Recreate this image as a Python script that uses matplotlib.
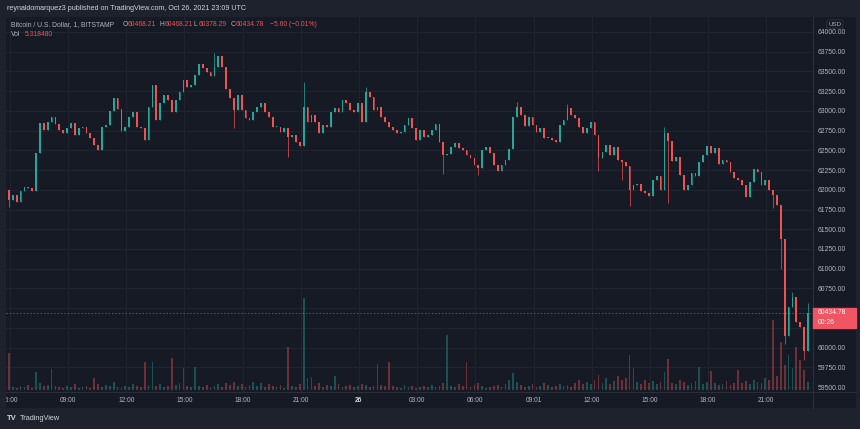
import numpy as np
import matplotlib
matplotlib.use('Agg')
import matplotlib.pyplot as plt

plt.rcParams['font.family'] = ['Liberation Sans', 'DejaVu Sans']

# --- data (BTC/USD, Bitstamp), one value per 12 min ---
start_hour = 5.75          # hours since Oct 25 00:00
step_hour = 0.2
first_open = 61990

# Oct 25 05:45 -> Oct 26 01:33
closes_1 = [62000, 61870, 61930, 61850, 61990, 62040, 62020, 61980, 62470, 62850,
            62760, 62860, 62920, 62830, 62760, 62720, 62780, 62850, 62700, 62780,
            62800, 62720, 62660, 62570, 62510, 62790, 62820, 63000, 63160, 63020,
            62750, 62790, 62920, 62990, 62800, 62780, 62630, 63050, 63330, 62880,
            63100, 63200, 63140, 62990, 63140, 63240, 63390, 63300, 63330, 63460,
            63590, 63540, 63490, 63440, 63560, 63690, 63560, 63280, 63160, 63010,
            63200, 63010, 62910, 62880, 62990, 63050, 63100, 62990, 62920, 62800,
            62800, 62730, 62780, 62670, 62700, 62610, 62550, 63050, 62860, 62950,
            62860, 62720, 62820, 62790, 62990, 63040, 62990, 63140, 63100, 63010,
            62990, 63100, 62860, 63240, 63180, 63010, 63050, 62920, 62860, 62800]
# Oct 26 01:45 -> 23:09
closes_2 = [62760, 62720, 62730, 62820, 62910, 62780, 62630, 62760, 62670, 62700,
            62760, 62830, 62600, 62440, 62450, 62540, 62590, 62530, 62500, 62440,
            62400, 62310, 62270, 62500, 62540, 62470, 62310, 62240, 62310, 62380,
            62520, 62920, 63050, 62950, 62810, 62920, 62820, 62730, 62780, 62660,
            62660, 62630, 62610, 62820, 62880, 63040, 62950, 62910, 62800, 62720,
            62780, 62860, 62690, 62400, 62480, 62570, 62440, 62540, 62380, 62350,
            62300, 62000, 62060, 62070, 61990, 61960, 61920, 62120, 62170, 62000,
            62720, 62620, 62360, 62420, 62190, 62000, 62060, 62210, 62180, 62350,
            62440, 62550, 62470, 62530, 62330, 62380, 62350, 62230, 62150, 62120,
            62060, 61910, 62100, 62260, 62220, 62060, 62120, 62000, 61930, 61810,
            61380, 60150, 60520, 60640, 60320, 60260, 59960, 60435]

volumes_1 = [4, 37, 3, 2, 4, 3, 5, 2, 18, 7,
             4, 5, 21, 4, 3, 2, 4, 3, 6, 2,
             3, 4, 2, 12, 6, 3, 5, 4, 8, 3,
             2, 4, 3, 6, 4, 3, 28, 5, 28, 4,
             6, 3, 4, 32, 5, 7, 22, 4, 3, 23,
             4, 3, 5, 2, 4, 6, 3, 7, 5, 8,
             4, 6, 3, 5, 8, 4, 7, 3, 6, 4,
             3, 5, 2, 43, 4, 3, 6, 92, 12, 13,
             4, 7, 3, 5, 4, 14, 6, 3, 4, 5,
             3, 4, 6, 5, 3, 4, 26, 5, 4, 28]
volumes_2 = [4, 3, 2, 5, 3, 4, 2, 3, 4, 3,
             5, 3, 4, 7, 55, 4, 3, 6, 4, 28,
             3, 5, 7, 4, 2, 3, 4, 5, 3, 6,
             10, 17, 8, 5, 3, 4, 6, 3, 4, 7,
             5, 3, 4, 6, 4, 5, 3, 7, 10, 6,
             8, 6, 10, 15, 7, 12, 6, 9, 14, 10,
             12, 35, 22, 8, 6, 10, 7, 9, 6, 8,
             18, 31, 7, 6, 10, 8, 5, 7, 9, 23,
             6, 8, 19, 7, 5, 6, 9, 5, 7, 20,
             7, 9, 6, 10, 8, 7, 12, 10, 70, 14,
             48, 25, 35, 22, 43, 30, 20, 8]

# long wicks (candle index -> price)
wick_high = {54: 63730, 77: 63370, 93: 63300, 132: 63110, 145: 63090,
             170: 62800, 203: 60700, 207: 60570}
wick_low = {1: 61780, 59: 62780, 73: 62420, 113: 62200, 122: 62190, 153: 62240,
            159: 62120, 161: 61800, 171: 61830, 198: 61770, 200: 61000,
            201: 60050, 206: 59840}

last_price = 60434.78
price_ticks = np.arange(59500, 64001, 250)
hidden_ticks = [60250, 60500]   # covered by the last-price tag
time_ticks = [6, 9, 12, 15, 18, 21, 24, 27, 30, 33, 36, 39, 42, 45]
time_labels = ['06:00', '09:00', '12:00', '15:00', '18:00', '21:00', '26',
               '03:00', '06:00', '09:01', '12:00', '15:00', '18:00', '21:00']

# --- build candles ---
closes = np.array(closes_1 + closes_2, dtype=float)
volumes = np.array(volumes_1 + volumes_2, dtype=float)
opens = np.r_[first_open, closes[:-1]]
highs = np.maximum(opens, closes)
lows = np.minimum(opens, closes)
for k, v in wick_high.items():
    highs[k] = max(highs[k], v)
for k, v in wick_low.items():
    lows[k] = min(lows[k], v)
t = start_hour + step_hour * np.arange(len(closes))
up = closes >= opens
UP, DN = '#26a69a', '#ef5350'
col = np.where(up, UP, DN)

# --- layout in pixels ---
W, H = 860, 429
def rect(x0, y0, x1, y1):
    return [x0 / W, 1 - y1 / H, (x1 - x0) / W, (y1 - y0) / H]

BG_OUT = '#1e222d'
BG = '#161a25'
GRID = '#212532'
TXT = '#b2b5be'
SEP = '#2a2e39'

fig = plt.figure(figsize=(W / 100, H / 100), dpi=100, facecolor=BG_OUT)

bg = fig.add_axes(rect(6, 17, 856, 408), zorder=0)
bg.set_facecolor(BG); bg.set_xticks([]); bg.set_yticks([])
for s in bg.spines.values():
    s.set_visible(False)

xlim = (5.80, 47.41)
ylim = (59437, 64190)
pane = rect(6, 17, 813, 392)

# grid layer
gax = fig.add_axes(pane, zorder=1)
gax.set_facecolor('none')
gax.set_xlim(xlim); gax.set_ylim(ylim)
for v in price_ticks:
    gax.axhline(v, color=GRID, lw=0.7)
for h in time_ticks:
    gax.axvline(h, color=GRID, lw=0.7)
gax.axis('off')

# volume layer
vax = fig.add_axes(pane, zorder=2)
vax.set_facecolor('none')
vax.bar(t, volumes, width=0.09, color=col, alpha=0.4, lw=0)
vax.set_xlim(xlim); vax.set_ylim(-2, 373)
vax.axis('off')

# candles
ax = fig.add_axes(pane, zorder=3)
ax.set_facecolor('none')
ax.vlines(t, lows, highs, colors=col, lw=0.5)
ax.bar(t, np.maximum(np.abs(closes - opens), 8), bottom=np.minimum(opens, closes),
       width=0.09, color=col, lw=0)
ax.axhline(last_price, color=DN, lw=0.7, ls=(0, (1.5, 2)), alpha=0.6)
ax.set_xlim(xlim); ax.set_ylim(ylim)
ax.set_xticks([])
ax.yaxis.tick_right()
ax.set_yticks(price_ticks)
ax.set_yticklabels(['' if v in hidden_ticks else f'{v:.2f}' for v in price_ticks])
ax.tick_params(axis='y', length=0, pad=3.6, labelsize=4.9, labelcolor=TXT)
for s in ax.spines.values():
    s.set_visible(False)

# time axis strip
tax = fig.add_axes(rect(6, 392, 813, 408), zorder=3)
tax.set_facecolor('none')
tax.set_xlim(xlim); tax.set_ylim(0, 1)
tax.axis('off')
for h, lab in zip(time_ticks, time_labels):
    tax.text(h, 0.5, lab, ha='center', va='center', fontsize=4.8,
             color='#d1d4dc' if lab == '26' else TXT,
             fontweight='bold' if lab == '26' else 'normal', clip_on=True)

# separators
fig.add_artist(plt.Line2D([6 / W, 856 / W], [1 - 392 / H] * 2, color=SEP, lw=0.8))
fig.add_artist(plt.Line2D([813 / W] * 2, [1 - 17 / H, 1 - 408 / H], color=SEP, lw=0.8))

# last price tag
fig.patches.append(plt.Rectangle((813 / W, 1 - 328 / H), 43 / W, 20 / H,
                                 transform=fig.transFigure, color='#f05563', zorder=5))
fig.text(818 / W, 1 - 313 / H, f'{last_price:.2f}', fontsize=4.9, color='white',
         va='center', zorder=6)
fig.text(818 / W, 1 - 322.5 / H, '00:26', fontsize=4.9, color='white', va='center', zorder=6)

# header / legend
fig.text(7 / W, 1 - 9 / H, 'reynaldomarquez3 published on TradingView.com, Oct 26, 2021 23:09 UTC',
         fontsize=5.1, color='#d1d4dc', va='center')
fig.text(11 / W, 1 - 25 / H, 'Bitcoin / U.S. Dollar, 1, BITSTAMP', fontsize=4.9, color=TXT, va='center')
legend_items = [(123, 'O', '60468.21'), (160, 'H', '60468.21'),
                (194, 'L', '60378.29'), (231, 'C', '60434.78')]
for x, k, v in legend_items:
    fig.text(x / W, 1 - 25 / H, k, fontsize=4.9, color=TXT, va='center')
    fig.text((x + 4.5) / W, 1 - 25 / H, v, fontsize=4.9, color=DN, va='center')
fig.text(270 / W, 1 - 25 / H, '\u22125.60 (\u22120.01%)', fontsize=4.9, color=DN, va='center')
fig.text(11 / W, 1 - 35 / H, 'Vol', fontsize=4.9, color=TXT, va='center')
fig.text(25 / W, 1 - 35 / H, '5.318480', fontsize=4.9, color=DN, va='center')

fig.text(835 / W, 1 - 24 / H, 'USD', fontsize=4.4, color=TXT, va='center', ha='center',
         bbox=dict(boxstyle='round,pad=0.25', fc='none', ec='#363a45', lw=0.5))

# footer logo
fig.text(7 / W, 1 - 419 / H, 'TV', fontsize=5.5, color='#d1d4dc', va='center', fontweight='bold')
fig.text(20 / W, 1 - 419 / H, 'TradingView', fontsize=5.3, color='#d1d4dc', va='center')

fig.savefig('out.png', dpi=100, facecolor=BG_OUT)
